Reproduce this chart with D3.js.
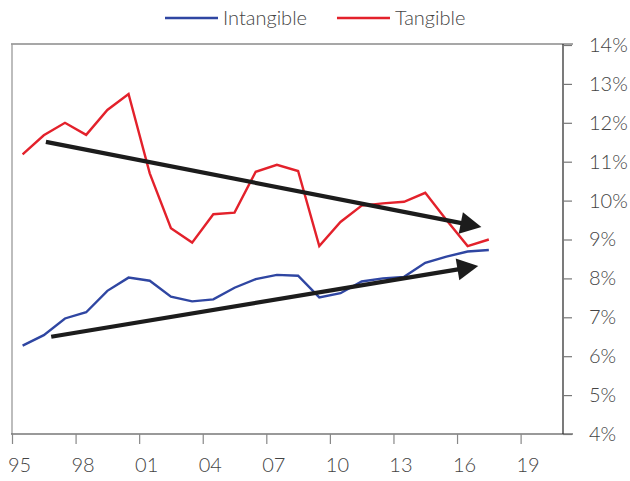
<!DOCTYPE html>
<html>
<head>
<meta charset="utf-8">
<script src="https://cdn.jsdelivr.net/npm/d3@7"></script>
<style>
  body { margin: 0; background: #fff; }
  svg text { font-family: Lato, "Open Sans", sans-serif; font-weight: 300; fill: #444; }
</style>
</head>
<body>
<svg id="chart" width="630" height="481"></svg>
<script>
// Return rates by year, percent
const years = [1995,1996,1997,1998,1999,2000,2001,2002,2003,2004,2005,2006,
               2007,2008,2009,2010,2011,2012,2013,2014,2015,2016,2017];
const intangible = [6.27,6.54,6.97,7.13,7.68,8.02,7.94,7.53,7.41,7.46,7.76,7.98,
                    8.09,8.07,7.51,7.62,7.92,8.00,8.04,8.40,8.56,8.69,8.73];
const tangible = [11.19,11.68,12.00,11.69,12.33,12.74,10.70,9.29,8.92,9.65,9.69,10.74,
                  10.92,10.76,8.83,9.45,9.87,9.93,9.97,10.20,9.50,8.83,9.00];

const xTicks = [1995,1998,2001,2004,2007,2010,2013,2016,2019];
const yTicks = [4,5,6,7,8,9,10,11,12,13,14];

// Trend arrows: [startYear, startPct, endYear, endPct]
const trendTangible = [1996.6, 11.51, 2017.15, 9.32];
const trendIntangible = [1996.85, 6.50, 2017.0, 8.32];

const svg = d3.select("#chart");
const plotLeft = 12, plotRight = 563, plotTop = 45, plotBottom = 434;
const fontSize = 20;

const x = d3.scaleLinear().domain([1995, 2021]).range([plotLeft, plotRight]);
const y = d3.scaleLinear().domain([4, 14]).range([plotBottom, plotTop]);

// frame: top rule and left edge
svg.append("line").attr("x1", plotLeft - 1).attr("x2", plotRight + 10)
  .attr("y1", plotTop - 1).attr("y2", plotTop - 1)
  .attr("stroke", "#8a8a8a").attr("stroke-width", 1.3);
svg.append("line").attr("x1", plotLeft).attr("x2", plotLeft)
  .attr("y1", plotTop - 1).attr("y2", plotBottom)
  .attr("stroke", "#9a9a9a").attr("stroke-width", 1.3);

// x axis
const xAxis = svg.append("g").attr("transform", `translate(0,${plotBottom})`)
  .call(d3.axisBottom(x).tickValues(xTicks).tickSize(10).tickPadding(14)
    .tickFormat(d => String(d % 100).padStart(2, "0")));
xAxis.select(".domain").attr("d", `M${plotLeft - 1},0H${plotRight + 10}`)
  .attr("stroke", "#777").attr("stroke-width", 1.3);
xAxis.selectAll(".tick line").attr("stroke", "#888").attr("stroke-width", 1.2);
xAxis.selectAll("text").attr("font-size", fontSize).attr("fill", "#444").attr("dx", 7)
  .style("font-family", "Lato, sans-serif").style("font-weight", 300);

// y axis on the right
const yAxis = svg.append("g").attr("transform", `translate(${plotRight},0)`)
  .call(d3.axisRight(y).tickValues(yTicks).tickSize(9).tickPadding(17)
    .tickFormat(d => d + "%"));
yAxis.select(".domain").attr("d", `M0,${plotTop - 1}V${plotBottom}`)
  .attr("stroke", "#222").attr("stroke-width", 1.2);
yAxis.selectAll(".tick line").attr("stroke", "#777").attr("stroke-width", 1.2);
yAxis.selectAll("text").attr("font-size", fontSize).attr("fill", "#444")
  .style("font-family", "Lato, sans-serif").style("font-weight", 300);

// series lines, plotted at mid-year
const line = d3.line().x((d, i) => x(years[i] + 0.5)).y(d => y(d));
svg.append("path").datum(tangible).attr("d", line)
  .attr("fill", "none").attr("stroke", "#e3212b").attr("stroke-width", 2.4)
  .attr("stroke-linejoin", "miter");
svg.append("path").datum(intangible).attr("d", line)
  .attr("fill", "none").attr("stroke", "#2f46a2").attr("stroke-width", 2.4)
  .attr("stroke-linejoin", "miter");

// trend arrows
function arrow(t) {
  const x1 = x(t[0]), y1 = y(t[1]), x2 = x(t[2]), y2 = y(t[3]);
  const ang = Math.atan2(y2 - y1, x2 - x1);
  const headLen = 21, headHalf = 11;
  const bx = x2 - headLen * Math.cos(ang), by = y2 - headLen * Math.sin(ang);
  svg.append("line").attr("x1", x1).attr("y1", y1).attr("x2", bx + 2 * Math.cos(ang)).attr("y2", by + 2 * Math.sin(ang))
    .attr("stroke", "#1c1c1c").attr("stroke-width", 4.2);
  const px = -Math.sin(ang), py = Math.cos(ang);
  svg.append("path")
    .attr("d", `M${x2},${y2}L${bx + headHalf * px},${by + headHalf * py}L${bx - headHalf * px},${by - headHalf * py}Z`)
    .attr("fill", "#1c1c1c");
}
arrow(trendTangible);
arrow(trendIntangible);

// legend: swatch, label, then the next swatch after a fixed gap
const legendItems = [["Intangible", "#2f46a2"], ["Tangible", "#e3212b"]];
const lg = svg.append("g").attr("transform", "translate(165,18)");
let lx = 0;
legendItems.forEach(([name, color]) => {
  lg.append("line").attr("x1", lx).attr("x2", lx + 53).attr("y1", 0).attr("y2", 0)
    .attr("stroke", color).attr("stroke-width", 2.6);
  const t = lg.append("text").attr("x", lx + 58).attr("y", 0).attr("dy", "0.35em")
    .attr("font-size", fontSize).text(name);
  lx += 58 + t.node().getComputedTextLength() + 30;
});
</script>
</body>
</html>
